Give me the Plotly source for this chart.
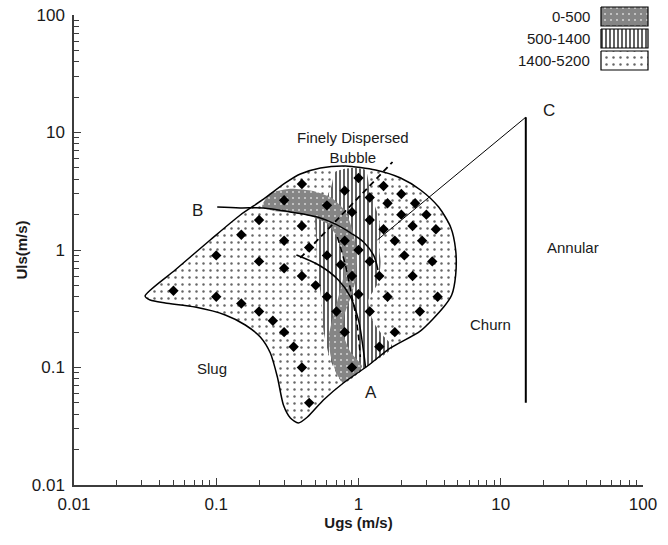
import numpy as np
import plotly.graph_objects as go

# ---------------- data ----------------
# outer flow-pattern region (1400-5200)
outer_ugs = [0.0316, 0.0514, 0.0907, 0.1476, 0.211, 0.306, 0.390, 0.540, 0.809, 1.318, 1.976, 2.73,
             3.66, 4.44, 4.82, 4.82, 4.52, 3.97, 2.73, 1.68, 1.157, 0.783, 0.567, 0.4375, 0.3776,
             0.332, 0.2966, 0.269, 0.240, 0.204, 0.160, 0.1157, 0.0711, 0.0438, 0.0343]
outer_uls = [0.406, 0.676, 1.217, 1.986, 2.665, 3.72, 4.43, 4.99, 5.19, 4.80, 4.10, 3.24,
             2.32, 1.57, 1.0, 0.612, 0.414, 0.327, 0.205, 0.1466, 0.103, 0.0738, 0.0529, 0.0379, 0.0337,
             0.0372, 0.048, 0.083, 0.1327, 0.1818, 0.230, 0.280, 0.327, 0.354, 0.375]

# vertically hatched region (500-1400)
mid_ugs = [0.689, 0.879, 1.12, 1.21, 1.37, 1.43, 1.39, 1.43, 1.37, 1.176, 1.255, 1.476, 1.735,
           1.157, 0.783, 0.635, 0.567, 0.549, 0.514, 0.506, 0.497, 0.557, 0.635]
mid_uls = [4.61, 4.99, 4.80, 3.05, 1.99, 1.42, 1.10, 0.79, 0.524, 0.375, 0.253, 0.189, 0.149,
           0.103, 0.0738, 0.116, 0.208, 0.375, 0.676, 1.22, 1.87, 2.42, 3.24]

# grey band (0-500)
low_ugs = [0.211, 0.240, 0.332, 0.482, 0.650, 0.809, 0.913, 0.975, 0.953, 0.879, 0.795, 0.783, 0.879,
           1.06, 0.783, 0.704, 0.635, 0.620, 0.660, 0.722, 0.783, 0.771, 0.710, 0.600, 0.470, 0.346,
           0.255, 0.211]
low_uls = [2.42, 3.05, 3.32, 3.18, 2.77, 2.14, 1.44, 0.906, 0.55, 0.39, 0.280, 0.189, 0.135,
           0.102, 0.0738, 0.0880, 0.128, 0.189, 0.266, 0.398, 0.593, 0.906, 1.29, 1.68, 1.93, 2.07,
           2.15, 2.30]

# transition curves
b_ugs = [0.1016, 0.1476, 0.214, 0.332, 0.514, 0.689, 0.879, 1.084, 1.276, 1.37]
b_uls = [2.32, 2.28, 2.28, 2.11, 1.91, 1.66, 1.40, 1.17, 0.906, 0.676]
a_ugs = [0.366, 0.540, 0.722, 0.879, 1.0, 1.07, 1.12]
a_uls = [0.906, 0.731, 0.556, 0.398, 0.253, 0.155, 0.101]
d1_ugs = [0.390, 1.735]
d1_uls = [0.855, 5.61]
d2_ugs = [0.71, 0.809, 0.879, 0.968, 1.03]
d2_uls = [1.29, 0.745, 0.457, 0.253, 0.123]
c_ugs = [1.36, 15.0]
c_uls = [1.22, 13.5]
ann_ugs = [15.0, 15.0]
ann_uls = [0.05, 13.5]

# experimental points
pt_ugs = [0.05, 0.1, 0.1, 0.15, 0.15, 0.2, 0.2, 0.2, 0.25, 0.3, 0.35, 0.4, 0.45,
          0.3, 0.3, 0.3, 0.4, 0.4, 0.4, 0.45, 0.5, 0.6, 0.6, 0.6, 0.7, 0.75,
          0.8, 0.8, 0.8, 0.9, 0.9, 0.9, 1.0, 1.0, 1.0, 1.2, 1.2, 1.2, 1.2,
          1.4, 1.4, 1.5, 1.5, 1.6, 1.6, 1.8, 1.8, 2.0, 2.0, 2.1, 2.4, 2.4, 2.5,
          2.7, 2.8, 3.0, 3.3, 3.5, 3.6]
pt_uls = [0.45, 0.9, 0.4, 1.35, 0.35, 1.8, 0.8, 0.3, 0.25, 0.2, 0.15, 0.1, 0.05,
          2.65, 1.2, 0.7, 3.65, 1.6, 0.6, 1.05, 0.5, 2.4, 0.9, 0.4, 0.3, 0.75,
          3.2, 1.2, 0.2, 2.1, 0.1, 0.6, 4.1, 1.0, 0.42, 2.8, 1.8, 0.8, 0.3,
          0.15, 0.6, 3.5, 1.5, 2.5, 0.4, 0.2, 1.2, 3.0, 2.0, 0.9, 1.6, 0.6, 2.5,
          0.3, 1.2, 2.0, 0.8, 1.5, 0.4]

legend_labels = ["0-500", "500-1400", "1400-5200"]
x_ticks = [0.01, 0.1, 1, 10, 100]
x_ticktext = ["0.01", "0.1", "1", "10", "100"]

# region labels: (text, Ugs, Uls)
region_labels = [("Finely Dispersed<br>Bubble", 0.908, 7.5),
                 ("B", 0.0734, 2.15),
                 ("C", 21.8, 15.5),
                 ("Annular", 32.1, 1.06),
                 ("Churn", 8.5, 0.234),
                 ("Slug", 0.0938, 0.099),
                 ("A", 1.215, 0.0607)]

# ---------------- styles ----------------
FONT = "Liberation Sans, Arial, sans-serif"
DOT = dict(shape=".", bgcolor="white", fgcolor="#666666", size=7, solidity=0.1, fillmode="replace")
VERT = dict(shape="|", bgcolor="white", fgcolor="#1e1e1e", size=4, solidity=0.35, fillmode="replace")
GREY = dict(shape=".", bgcolor="#858585", fgcolor="#d0d0d0", size=6, solidity=0.1, fillmode="replace")


def closed(a):
    return list(a) + [a[0]]


fig = go.Figure()

fig.add_trace(go.Scatter(x=closed(outer_ugs), y=closed(outer_uls), mode="lines", fill="toself",
                         line=dict(color="rgba(0,0,0,0)", width=0, shape="spline", smoothing=0.7),
                         fillpattern=DOT, fillcolor="white", hoverinfo="skip"))
fig.add_trace(go.Scatter(x=closed(mid_ugs), y=closed(mid_uls), mode="lines", fill="toself",
                         line=dict(color="rgba(0,0,0,0)", width=0, shape="spline", smoothing=0.6),
                         fillpattern=VERT, fillcolor="white", hoverinfo="skip"))
fig.add_trace(go.Scatter(x=closed(low_ugs), y=closed(low_uls), mode="lines", fill="toself",
                         line=dict(color="rgba(0,0,0,0)", width=0, shape="spline", smoothing=0.5),
                         fillpattern=GREY, fillcolor="#858585", hoverinfo="skip"))
fig.add_trace(go.Scatter(x=closed(outer_ugs), y=closed(outer_uls), mode="lines",
                         line=dict(color="black", width=1.5, shape="spline", smoothing=0.7),
                         hoverinfo="skip"))

fig.add_trace(go.Scatter(x=b_ugs, y=b_uls, mode="lines",
                         line=dict(color="black", width=1.5, shape="spline"), hoverinfo="skip"))
fig.add_trace(go.Scatter(x=a_ugs, y=a_uls, mode="lines",
                         line=dict(color="black", width=1.5, shape="spline"), hoverinfo="skip"))
fig.add_trace(go.Scatter(x=d1_ugs, y=d1_uls, mode="lines",
                         line=dict(color="black", width=1.8, dash="6px,4px"), hoverinfo="skip"))
fig.add_trace(go.Scatter(x=d2_ugs, y=d2_uls, mode="lines",
                         line=dict(color="black", width=1.5, dash="6px,4px", shape="spline"), hoverinfo="skip"))
fig.add_trace(go.Scatter(x=c_ugs, y=c_uls, mode="lines",
                         line=dict(color="black", width=1), hoverinfo="skip"))
fig.add_trace(go.Scatter(x=ann_ugs, y=ann_uls, mode="lines",
                         line=dict(color="black", width=2), hoverinfo="skip"))

fig.add_trace(go.Scatter(x=pt_ugs, y=pt_uls, mode="markers",
                         marker=dict(symbol="diamond", size=8, color="black"), hoverinfo="skip"))

# legend swatches in an auxiliary subplot (pixel-like units)
sw_x = [601, 648, 648, 601, 601]
sw_tops = [7, 29, 51]
sw_h = 19
patterns = [GREY, VERT, DOT]
fills = ["#858585", "white", "white"]
for top, pat, fc in zip(sw_tops, patterns, fills):
    fig.add_trace(go.Scatter(x=sw_x, y=[top, top, top + sw_h, top + sw_h, top], mode="lines",
                             fill="toself", fillpattern=pat, fillcolor=fc,
                             line=dict(color="black", width=1.2),
                             xaxis="x2", yaxis="y2", hoverinfo="skip"))

W, H = 668, 545
ML, MR, MT, MB = 74, 15, 5, 60
plot_w = W - ML - MR
plot_h = H - MT - MB
x_end = 643
y_top = 15

minor_vals = [k * 10.0 ** d for d in range(-2, 2) for k in range(2, 10)]

axis_common = dict(type="log", showgrid=False, zeroline=False, showline=True, automargin=False,
                   linecolor="#3c3c3c", linewidth=1.5, ticks="inside", ticklen=7,
                   tickcolor="#3c3c3c", tickwidth=1.2,
                   tickfont=dict(family=FONT, size=17, color="#1a1a1a"),
                   minor=dict(tickvals=minor_vals, ticks="inside", ticklen=5,
                              tickcolor="#3c3c3c", tickwidth=1.2, showgrid=False))

fig.update_layout(
    width=W, height=H,
    margin=dict(l=ML, r=MR, t=MT, b=MB, autoexpand=False),
    paper_bgcolor="white", plot_bgcolor="rgba(0,0,0,0)",
    showlegend=False,
    font=dict(family=FONT, color="#1a1a1a"),
    xaxis=dict(**axis_common, range=[-2, 2], domain=[0, (x_end - ML) / plot_w],
               tickvals=x_ticks, ticktext=x_ticktext, ticklabelstandoff=3,
               title=dict(text="<b>Ugs (m/s)</b>", font=dict(family=FONT, size=15), standoff=2)),
    yaxis=dict(**axis_common, range=[-2, 2], domain=[0, (H - MB - y_top) / plot_h],
               tickvals=x_ticks, ticktext=x_ticktext, ticklabelstandoff=4,
               title=dict(text="<b>Uls(m/s)</b>", font=dict(family=FONT, size=15), standoff=1)),
    xaxis2=dict(domain=[(596 - ML) / plot_w, 1], range=[596, 653], anchor="y2",
                visible=False, fixedrange=True),
    yaxis2=dict(domain=[(H - MB - 75) / plot_h, 1], range=[75, 5], anchor="x2",
                visible=False, fixedrange=True),
)

for txt, ux, uy in region_labels:
    size = 17 if len(txt) == 1 else 15
    fig.add_annotation(x=np.log10(ux), y=np.log10(uy), xref="x", yref="y", text=txt,
                       showarrow=False, font=dict(family=FONT, size=size, color="#1a1a1a"),
                       align="center")

for lab, top in zip(legend_labels, sw_tops):
    cy = top + sw_h / 2
    fig.add_annotation(x=(592 - ML) / plot_w, y=(H - MB - cy) / plot_h, xref="paper", yref="paper",
                       text=lab, showarrow=False, xanchor="right", yanchor="middle",
                       font=dict(family=FONT, size=15, color="#1a1a1a"))

fig.write_html("out.html")
